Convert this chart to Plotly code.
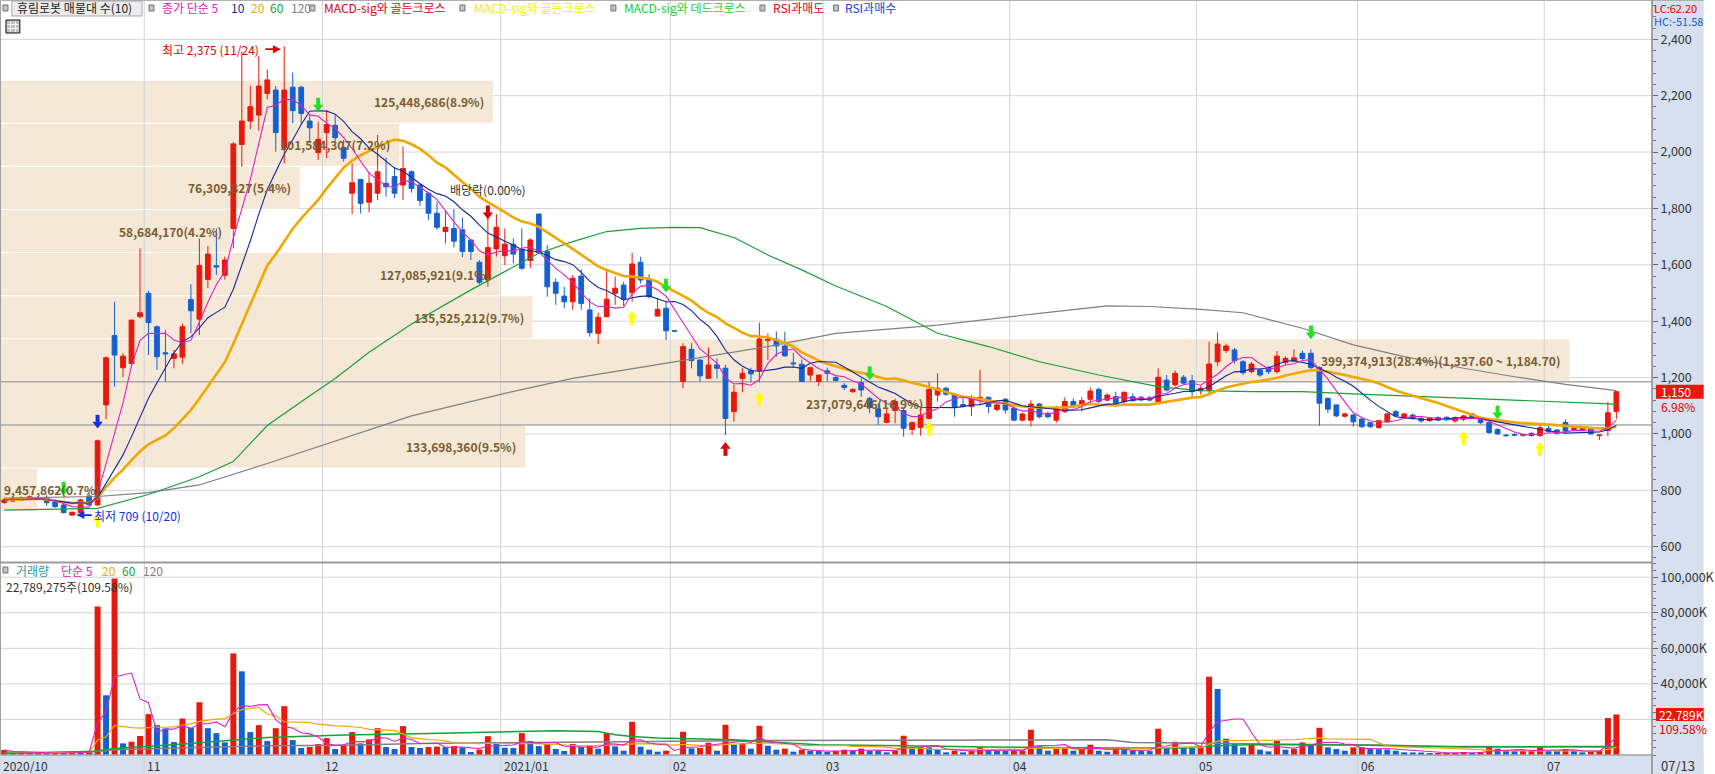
import pandas as pd
import plotly.graph_objects as go

# daily candles, one per trading day (index 0 = 2020/10/07 ... 190 = 2021/07/13)
opens = [757, 762, 773, 768, 774, 775, 763, 748, 712, 721,
         780, 748, 1103, 1349, 1235, 1250, 1416, 1499, 1380, 1288,
         1268, 1272, 1477, 1407, 1548, 1597, 1563, 1729, 2027, 2110,
         2131, 2208, 2220, 2015, 2230, 2230, 2110, 1998, 2069, 2095,
         2016, 1854, 1903, 1822, 1854, 1889, 1913, 1883, 1930, 1883,
         1854, 1783, 1718, 1729, 1724, 1688, 1609, 1546, 1656, 1632,
         1673, 1655, 1615, 1780, 1647, 1538, 1489, 1469, 1560, 1440,
         1357, 1416, 1499, 1528, 1501, 1609, 1550, 1418, 1446, 1366,
         1186, 1300, 1262, 1197, 1245, 1233, 1079, 1197, 1224, 1224,
         1332, 1336, 1312, 1252, 1247, 1209, 1186, 1224, 1200, 1172,
         1150, 1182, 1126, 1089, 1041, 1083, 1083, 1016, 1023, 1055,
         1138, 1162, 1141, 1104, 1097, 1118, 1130, 1087, 1123, 1091,
         1049, 1049, 1106, 1073, 1049, 1079, 1115, 1103, 1123, 1158,
         1120, 1132, 1115, 1132, 1130, 1128, 1115, 1191, 1174, 1201,
         1189, 1153, 1154, 1256, 1296, 1298, 1256, 1221, 1227, 1236,
         1221, 1253, 1259, 1286, 1286, 1236, 1126, 1103, 1063, 1067,
         1053, 1040, 1023, 1043, 1079, 1059, 1067, 1055, 1047, 1058,
         1059, 1046, 1052, 1071, 1058, 1040, 1016, 996, 998, 995,
         1002, 994, 1020, 1014, 1041, 1016, 1014, 1017, 994, 1012,
         1080]
highs = [775, 775, 778, 782, 780, 783, 768, 752, 725, 770,
         792, 980, 1275, 1469, 1286, 1404, 1658, 1508, 1385, 1369,
         1298, 1392, 1531, 1693, 1667, 1729, 1629, 2035, 2355, 2235,
         2341, 2293, 2234, 2375, 2282, 2235, 2131, 2108, 2149, 2131,
         2043, 1960, 1905, 1930, 2060, 1981, 1948, 2019, 1935, 1890,
         1858, 1824, 1794, 1797, 1768, 1690, 1617, 1780, 1780, 1729,
         1694, 1729, 1694, 1782, 1670, 1552, 1522, 1564, 1584, 1481,
         1430, 1584, 1558, 1540, 1643, 1629, 1567, 1481, 1469, 1366,
         1322, 1322, 1265, 1307, 1268, 1245, 1174, 1233, 1235, 1395,
         1357, 1363, 1363, 1288, 1264, 1235, 1209, 1235, 1205, 1180,
         1162, 1197, 1132, 1109, 1091, 1125, 1090, 1044, 1091, 1185,
         1215, 1168, 1144, 1132, 1138, 1227, 1132, 1108, 1127, 1103,
         1075, 1120, 1110, 1079, 1100, 1130, 1126, 1130, 1165, 1165,
         1144, 1150, 1150, 1144, 1135, 1135, 1233, 1209, 1225, 1209,
         1209, 1170, 1327, 1360, 1320, 1305, 1262, 1255, 1232, 1240,
         1294, 1275, 1300, 1296, 1300, 1240, 1130, 1105, 1075, 1070,
         1056, 1043, 1050, 1075, 1085, 1075, 1072, 1060, 1060, 1062,
         1063, 1062, 1068, 1075, 1062, 1045, 1020, 1000, 1003, 1000,
         1006, 1040, 1030, 1018, 1052, 1024, 1022, 1020, 997, 1114,
         1150]
lows = [752, 758, 762, 765, 765, 745, 738, 718, 709, 718,
        745, 745, 1052, 1168, 1201, 1245, 1410, 1280, 1227, 1185,
        1233, 1250, 1357, 1351, 1517, 1564, 1548, 1658, 1948, 2081,
        2076, 2187, 2001, 1960, 2102, 2100, 2031, 1972, 1978, 2037,
        1966, 1780, 1782, 1786, 1830, 1842, 1836, 1830, 1856, 1809,
        1759, 1724, 1676, 1662, 1627, 1617, 1530, 1522, 1629, 1599,
        1605, 1582, 1588, 1643, 1487, 1458, 1446, 1440, 1440, 1345,
        1319, 1414, 1458, 1454, 1469, 1534, 1481, 1418, 1333, 1364,
        1162, 1233, 1186, 1197, 1197, 996, 1044, 1148, 1183, 1183,
        1262, 1274, 1274, 1236, 1186, 1186, 1170, 1186, 1186, 1156,
        1145, 1132, 1073, 1032, 1038, 1038, 990, 996, 994, 1052,
        1115, 1135, 1061, 1097, 1064, 1103, 1075, 1080, 1073, 1046,
        1045, 1026, 1055, 1055, 1040, 1075, 1091, 1079, 1106, 1109,
        1115, 1097, 1103, 1115, 1115, 1115, 1106, 1150, 1168, 1174,
        1127, 1140, 1143, 1240, 1288, 1250, 1210, 1215, 1203, 1212,
        1215, 1245, 1255, 1262, 1230, 1029, 1074, 1060, 1058, 1026,
        1020, 1020, 1018, 1040, 1060, 1055, 1050, 1040, 1043, 1045,
        1046, 1040, 1046, 1055, 1035, 1000, 996, 990, 992, 990,
        990, 990, 1005, 998, 1002, 1010, 1010, 998, 978, 991,
        1053]
closes = [766, 771, 766, 777, 770, 756, 742, 721, 722, 766,
          748, 976, 1270, 1280, 1276, 1404, 1430, 1395, 1274, 1284,
          1284, 1380, 1437, 1598, 1638, 1592, 1617, 2029, 2110, 2161,
          2234, 2256, 2069, 2220, 2147, 2137, 2086, 2045, 2098, 2051,
          1978, 1891, 1818, 1889, 1930, 1877, 1854, 1942, 1871, 1828,
          1783, 1733, 1733, 1684, 1647, 1647, 1538, 1661, 1733, 1673,
          1638, 1588, 1688, 1643, 1522, 1499, 1469, 1552, 1463, 1359,
          1414, 1478, 1517, 1478, 1603, 1546, 1487, 1442, 1366, 1365,
          1310, 1260, 1206, 1245, 1233, 1055, 1148, 1215, 1213, 1337,
          1336, 1312, 1277, 1249, 1186, 1235, 1209, 1215, 1190, 1165,
          1158, 1156, 1094, 1061, 1071, 1115, 1020, 1040, 1067, 1158,
          1162, 1141, 1097, 1098, 1126, 1130, 1097, 1103, 1085, 1049,
          1071, 1106, 1061, 1061, 1094, 1115, 1097, 1118, 1152, 1115,
          1138, 1109, 1148, 1118, 1121, 1120, 1201, 1156, 1215, 1180,
          1150, 1162, 1248, 1319, 1312, 1260, 1217, 1248, 1209, 1221,
          1276, 1268, 1270, 1268, 1236, 1109, 1088, 1064, 1071, 1043,
          1026, 1026, 1047, 1071, 1064, 1071, 1055, 1046, 1055, 1049,
          1050, 1058, 1064, 1058, 1040, 1005, 1000, 994, 996, 997,
          994, 1022, 1008, 1002, 1010, 1021, 1020, 1000, 996, 1075,
          1150]
# volume in thousand shares
volumes = [2800, 1100, 1300, 900, 1200, 1000, 1400, 1200, 1600, 1300,
           2400, 83470, 33600, 99300, 6550, 7470, 10700, 22970, 16800, 14940,
           7280, 20540, 15300, 29700, 15100, 12300, 7100, 57140, 47060, 12880,
           16800, 7840, 15100, 27450, 8400, 3920, 4480, 6160, 9520, 3360,
           5400, 12880, 6550, 8800, 15100, 4480, 3360, 16240, 4480, 3920,
           4480, 4700, 4400, 5000, 4100, 1700, 3100, 10600, 6550, 4100,
           3900, 12300, 7840, 5000, 6200, 3400, 2240, 6200, 4500, 5400,
           3550, 12300, 4850, 2430, 18670, 4670, 2990, 1870, 2430, 0,
           13070, 3730, 3900, 6900, 2430, 17000, 5790, 6720, 3550, 16430,
           5230, 2990, 3550, 1870, 2990, 2240, 2200, 1680, 2240, 2990,
           2240, 3550, 2430, 2400, 1500, 2430, 10830, 3360, 4480, 4300,
           3360, 1500, 2430, 1500, 2430, 4290, 2430, 2400, 2380, 2430,
           2480, 14190, 4850, 2430, 3360, 4290, 2430, 3360, 5790, 2430,
           1870, 3360, 2990, 2430, 2240, 2200, 14750, 3730, 7470, 4300,
           3900, 4100, 44060, 37150, 9150, 6720, 4290, 5790, 2990, 2050,
           8030, 2990, 3360, 7090, 5600, 15310, 4290, 3360, 2430, 4290,
           4400, 3360, 3300, 2990, 2430, 1500, 1450, 1400, 1120, 1130,
           1140, 1150, 1680, 1120, 1680, 4850, 3550, 2240, 2200, 2250,
           2300, 4480, 2240, 2200, 3360, 2240, 1500, 1680, 2240, 20797,
           22789.275]

month_start = [0, 17, 38, 59, 79, 97, 119, 141, 160, 182]
month_label = ['2020/10', '11', '12', '2021/01', '02', '03', '04', '05', '06', '07']
last_date = '07/13'
hi_date = '11/24'
lo_date = '10/20'

# 60 / 120 day lines
ma60_idx = [0, 11, 17, 23, 27, 31, 35, 39, 43, 48, 55, 63, 67, 71, 75, 79, 82, 86, 90, 94,
            98, 104, 110, 116, 122, 129, 136, 141, 147, 153, 159, 165, 172, 178, 184, 190]
ma60_val = [730, 736, 785, 848, 902, 1030, 1114, 1197, 1290, 1390, 1511, 1641, 1682, 1718, 1729,
            1733, 1732, 1697, 1635, 1582, 1525, 1452, 1357, 1310, 1256, 1209, 1168, 1154, 1150,
            1150, 1142, 1135, 1126, 1118, 1111, 1106]
ma120_idx = [0, 11, 17, 23, 31, 35, 39, 48, 59, 67, 75, 83, 90, 98, 110, 122, 130, 135, 141,
             146, 153, 159, 165, 172, 178, 184, 190]
ma120_val = [772, 778, 792, 819, 895, 935, 975, 1064, 1144, 1197, 1236, 1275, 1310, 1357, 1386,
             1428, 1454, 1452, 1442, 1430, 1375, 1316, 1274, 1233, 1203, 1176, 1154]
vma60_idx = [0, 10, 13, 22, 31, 40, 50, 58, 65, 70, 72, 74, 77, 86, 96, 106, 116, 131, 139,
             143, 147, 162, 172, 184, 190]
vma60_val = [950, 1900, 3700, 6500, 9850, 11200, 12100, 12700, 13600, 13250, 11400, 10460, 9520,
             8590, 5790, 5230, 4480, 3920, 3920, 5230, 5790, 5600, 4480, 4850, 4850]
vma120_idx = [0, 10, 13, 22, 31, 40, 49, 58, 69, 90, 130, 133, 140, 150, 158, 165, 190]
vma120_val = [950, 1500, 3000, 4200, 5150, 5550, 6500, 6900, 7250, 8200, 8600, 7100, 6700, 6300,
              5800, 4900, 4500]

# volume-at-price bands (top to bottom)
band_vol = [125448686, 101584307, 76309827, 58684170, 127085921,
            135525212, 399374913, 237079646, 133698360, 9457862]
band_pct = ['8.9', '7.2', '5.4', '4.2', '9.1', '9.7', '28.4', '16.9', '9.5', '0.7']
peak_band_hi = 1337.60
peak_band_lo = 1184.70

# signal arrows
dead_idx = [7, 37, 78, 102, 154, 176]
dead_y = [798, 2160, 1518, 1207, 1352, 1068]
goldy_idx = [11, 74, 89, 109, 172, 181]
goldy_y = [700, 1420, 1133, 1026, 994, 955]
goldr_idx = [85]
goldr_y = [955]
rsi_hi_idx = [11]
rsi_hi_y = [1035]
exdiv_idx = [57]
exdiv_y = [1778]

price_grid = [600, 800, 1000, 1200, 1400, 1600, 1800, 2000, 2200, 2400]
vol_grid = [20000, 40000, 60000, 80000, 100000]

UP = '#e8190c'
DOWN = '#1560d0'
GRID = '#d4d4d4'
FONT = 'Noto Sans CJK KR'
W_PLOT, H_PLOT = 1663, 755
P_LO, P_HI = 545.7, 2539.4
V_HI = 108000


def xp(px):
    return px / W_PLOT


def yp(py):
    return 1 - py / H_PLOT


n = len(closes)
idx = list(range(n))
cs = pd.Series(closes, dtype=float)
ma5 = cs.rolling(5, min_periods=1).mean()
ma10 = cs.rolling(10, min_periods=1).mean()
ma20 = cs.rolling(20, min_periods=1).mean()
vs = pd.Series(volumes, dtype=float)
vma5 = vs.rolling(5, min_periods=1).mean()
vma20 = vs.rolling(20, min_periods=1).mean()
vol_colors = [UP] + [UP if volumes[k] >= volumes[k - 1] else DOWN for k in range(1, n)]

price_per_px = (P_HI - P_LO) / 562.0
vol_per_px = V_HI / 192.0

fig = go.Figure()

fig.add_trace(go.Candlestick(
    x=idx, open=opens, high=highs, low=lows, close=closes,
    increasing=dict(line=dict(color=UP, width=1), fillcolor=UP),
    decreasing=dict(line=dict(color=DOWN, width=1), fillcolor=DOWN),
    whiskerwidth=0, hoverinfo='skip', xaxis='x', yaxis='y'))

for xs, ys, col, w in [(ma120_idx, ma120_val, '#808080', 1.2),
                       (ma60_idx, ma60_val, '#18a038', 1.2),
                       (idx, ma20, '#f0a800', 2.6),
                       (idx, ma10, '#1028a0', 1.1),
                       (idx, ma5, '#e020c0', 1.1)]:
    fig.add_trace(go.Scatter(x=xs, y=ys, mode='lines', line=dict(color=col, width=w),
                             hoverinfo='skip', xaxis='x', yaxis='y'))


def arrows(xs, ys, col, down):
    # block arrow = triangle head + short stem
    off = 5 * price_per_px * (1 if down else -1)
    fig.add_trace(go.Scatter(x=xs, y=[v + off for v in ys], mode='markers',
                             marker=dict(symbol='line-ns', size=6, line=dict(color=col, width=4)),
                             hoverinfo='skip', xaxis='x', yaxis='y'))
    fig.add_trace(go.Scatter(x=xs, y=ys, mode='markers',
                             marker=dict(symbol='triangle-down' if down else 'triangle-up',
                                         size=9, color=col, line=dict(width=0)),
                             hoverinfo='skip', xaxis='x', yaxis='y'))


arrows(dead_idx, dead_y, '#22e022', True)
arrows(goldy_idx, goldy_y, '#ffff00', False)
arrows(goldr_idx, goldr_y, '#e00000', False)
arrows(rsi_hi_idx, rsi_hi_y, '#1030e8', True)
arrows(exdiv_idx, exdiv_y, '#e00000', True)

# volume panel
fig.add_trace(go.Bar(x=idx, y=volumes, marker=dict(color=vol_colors, line=dict(width=0)),
                     width=0.7, hoverinfo='skip', xaxis='x2', yaxis='y2'))
for xs, ys, col, w in [(vma120_idx, vma120_val, '#808080', 1.5),
                       (vma60_idx, vma60_val, '#18a038', 1.5),
                       (idx, vma20, '#f0a800', 1.2),
                       (idx, vma5, '#e020c0', 1.1)]:
    fig.add_trace(go.Scatter(x=xs, y=ys, mode='lines', line=dict(color=col, width=w),
                             hoverinfo='skip', xaxis='x2', yaxis='y2'))

shapes = []
ann = []


def text(x, y, s, col='#333333', size=12, xanchor='left', xref='paper', yref='paper', bold=False, **kw):
    ann.append(dict(x=x, y=y, xref=xref, yref=yref, text='<b>%s</b>' % s if bold else s,
                    showarrow=False, xanchor=xanchor, yanchor='middle', borderpad=0,
                    font=dict(family=FONT, size=size, color=col), **kw))


# background strips for the right scale and date row
shapes.append(dict(type='rect', xref='paper', yref='paper', x0=1, x1=1715 / W_PLOT,
                   y0=yp(774), y1=1, fillcolor='#d6e0ee', line=dict(width=0), layer='below'))
shapes.append(dict(type='rect', xref='paper', yref='paper', x0=0, x1=1715 / W_PLOT,
                   y0=yp(774), y1=0, fillcolor='#d6e0ee', line=dict(width=0), layer='below'))

# horizontal grid (drawn as shapes so the bands can cover them)
for v in price_grid:
    shapes.append(dict(type='line', xref='paper', yref='y', x0=0, x1=1, y0=v, y1=v,
                       line=dict(color=GRID, width=1), layer='below'))
for v in vol_grid:
    shapes.append(dict(type='line', xref='paper', yref='y2', x0=0, x1=1, y0=v, y1=v,
                       line=dict(color=GRID, width=1), layer='below'))

# volume-at-price bands
step = peak_band_hi - peak_band_lo
k_peak = band_vol.index(max(band_vol))
vmax = max(band_vol)
band_edges = []
for k, v in enumerate(band_vol):
    lo = peak_band_lo + (k_peak - k) * step
    hi = lo + step
    band_edges.append((lo, hi))
    frac = v / vmax * 0.95
    shapes.append(dict(type='rect', xref='x domain', yref='y', x0=0, x1=frac,
                       y0=lo + 1.8, y1=hi - 1.8, fillcolor='#f5e8d6', line=dict(width=0),
                       layer='below'))
    s = '%s(%s%%)' % (format(v, ','), band_pct[k])
    if k == k_peak:
        s += '(%s ~ %s)' % (format(peak_band_hi, ',.2f'), format(peak_band_lo, ',.2f'))
    wpx = len(s) * 7.2
    if frac * W_PLOT > wpx + 8:
        text(frac - 8 / W_PLOT, (lo + hi) / 2, s, '#7a5c30', 12, 'right', 'x domain', 'y', bold=True)
    else:
        text(3 / W_PLOT, (lo + hi) / 2, s, '#7a5c30', 12, 'left', 'x domain', 'y', bold=True)

# month grid lines
for m in month_start[1:]:
    shapes.append(dict(type='line', xref='x', yref='paper', x0=m - 0.5, x1=m - 0.5,
                       y0=yp(774), y1=1, line=dict(color='#d2d2d2', width=1), layer='below'))

# edges of the band holding the last close
last = closes[-1]
for lo, hi in band_edges:
    if lo <= last < hi:
        for v in (lo, hi):
            shapes.append(dict(type='line', xref='paper', yref='y', x0=0, x1=1, y0=v, y1=v,
                               line=dict(color='#808080', width=1), layer='below'))

# frame lines
shapes += [
    dict(type='line', xref='paper', yref='paper', x0=0, x1=1, y0=yp(562.5), y1=yp(562.5),
         line=dict(color='#9a9a9a', width=2), layer='above'),
    dict(type='line', xref='paper', yref='paper', x0=0, x1=1, y0=0, y1=0,
         line=dict(color='#a0a0a0', width=1.5), layer='above'),
    dict(type='line', xref='paper', yref='paper', x0=0, x1=0, y0=0, y1=1,
         line=dict(color='#a0a0a0', width=2), layer='above'),
    dict(type='line', xref='paper', yref='paper', x0=0, x1=1715 / W_PLOT, y0=1, y1=1,
         line=dict(color='#b0b0b0', width=2), layer='above'),
    dict(type='line', xref='paper', yref='paper', x0=1, x1=1, y0=yp(774), y1=1,
         line=dict(color='#8a8a8a', width=1.5), layer='above'),
]

# header legend
hy = yp(8)
shapes.append(dict(type='rect', xref='paper', yref='paper', x0=xp(12), x1=xp(143), y0=yp(16), y1=yp(1),
                   fillcolor='#ececec', line=dict(color='#a8a8a8', width=1), layer='above'))
for sx in [3, 150, 312, 463, 615, 765, 839]:
    shapes.append(dict(type='rect', xref='paper', yref='paper', x0=xp(sx), x1=xp(sx + 5),
                       y0=yp(11), y1=yp(5), fillcolor='#c4c4c4', line=dict(color='#707070', width=1),
                       layer='above'))
text(xp(16), hy, '휴림로봇 매물대 수(10)', '#222222')
for x0, s, col in [(162, '종가 단순 5', '#e020c0'), (232, '10', '#1028a0'), (252, '20', '#f0a800'),
                   (271, '60', '#18a038'), (292, '120', '#808080'),
                   (325, 'MACD-sig와 골든크로스', '#e00010'),
                   (476, 'MACD-sig와 골든크로스', '#f0f000'),
                   (627, 'MACD-sig와 데드크로스', '#22d022'),
                   (777, 'RSI과매도', '#e00010'),
                   (850, 'RSI과매수', '#1a40e0')]:
    text(xp(x0), hy, s, col)
# small table icon
shapes.append(dict(type='rect', xref='paper', yref='paper', x0=xp(6), x1=xp(20), y0=yp(33), y1=yp(20),
                   fillcolor='#c0c0c0', line=dict(color='#111111', width=1), layer='above'))
for gx in (10.5, 15.5):
    shapes.append(dict(type='line', xref='paper', yref='paper', x0=xp(gx), x1=xp(gx), y0=yp(32), y1=yp(21),
                       line=dict(color='#f4f4f4', width=1), layer='above'))
for gy in (24.5, 28.5):
    shapes.append(dict(type='line', xref='paper', yref='paper', x0=xp(7), x1=xp(19), y0=yp(gy), y1=yp(gy),
                       line=dict(color='#f4f4f4', width=1), layer='above'))

# high / low / ex-dividend notes
i_hi = highs.index(max(highs))
i_lo = lows.index(min(lows))
ann.append(dict(x=i_hi - 0.4, y=max(highs) - 10, xref='x', yref='y', ax=-17, ay=0, axref='pixel',
                ayref='pixel', showarrow=True, arrowhead=2, arrowsize=1, arrowwidth=1.6,
                arrowcolor='#e00000', text=''))
text(i_hi - 0.4, max(highs) - 10, '최고 %s (%s)' % (format(max(highs), ','), hi_date), '#e00000',
     12, 'right', 'x', 'y', xshift=-21)
ann.append(dict(x=i_lo + 0.5, y=min(lows) + 3, xref='x', yref='y', ax=17, ay=0, axref='pixel',
                ayref='pixel', showarrow=True, arrowhead=2, arrowsize=1, arrowwidth=1.6,
                arrowcolor='#1030e8', text=''))
text(i_lo + 0.5, min(lows) + 3, '최저 %d (%s)' % (min(lows), lo_date), '#1030e8', 12, 'left', 'x', 'y',
     xshift=17)
text(exdiv_idx[0], exdiv_y[0] + 88, '배당락(0.00%)', '#333333', 12, 'center', 'x', 'y')

# right scale notes
lc = (last / min(lows) - 1) * 100
hc = (last / max(highs) - 1) * 100
text(xp(1664), yp(7.5), 'LC:%.2f' % lc, '#e00000', 11)
text(xp(1664), yp(21.5), 'HC:%.2f' % hc, '#1a5cd0', 11)
shapes.append(dict(type='rect', xref='paper', yref='y', x0=xp(1667), x1=1715 / W_PLOT,
                   y0=last - 7 * price_per_px, y1=last + 7 * price_per_px, fillcolor=UP,
                   line=dict(width=0), layer='above'))
text(xp(1671), last, format(last, ','), 'white', 12, yref='y')
chg = (last / closes[-2] - 1) * 100
text(xp(1671), last - 14.5 * price_per_px, '%.2f%%' % chg, '#e00000', 12, yref='y')

vlast = volumes[-1]
shapes.append(dict(type='rect', xref='paper', yref='y2', x0=xp(1667), x1=1715 / W_PLOT,
                   y0=vlast - 6.5 * vol_per_px, y1=vlast + 6.5 * vol_per_px, fillcolor=UP,
                   line=dict(width=0), layer='above'))
text(xp(1669), vlast, '%sK' % format(int(vlast), ','), 'white', 12, yref='y2')
vchg = vlast / volumes[-2] * 100
text(xp(1669), vlast - 14 * vol_per_px, '%.2f%%' % vchg, '#e00000', 12, yref='y2')

# volume legend
vy = yp(570)
shapes.append(dict(type='rect', xref='paper', yref='paper', x0=xp(3), x1=xp(8), y0=yp(573), y1=yp(567),
                   fillcolor='#c4c4c4', line=dict(color='#707070', width=1), layer='above'))
for x0, s, col in [(15, '거래량', '#2a9aa0'), (60, '단순 5', '#e020c0'), (102, '20', '#f0a800'),
                   (122, '60', '#18a038'), (143, '120', '#808080')]:
    text(xp(x0), vy, s, col)
text(xp(5), yp(586.5), '%s주(%.2f%%)' % (format(round(vlast * 1000), ','), vchg), '#333333')

# date row
for m, s in zip(month_start, month_label):
    text(m - 0.5, yp(765), s, '#333333', 12, 'left', 'x', 'paper', xshift=2)
text(xp(1671), yp(765), last_date, '#333333', 13)

# the 20,000K label sits under the volume box, as in the original
vol_ticktext = ['' if v == 20000 else '%sK' % format(v, ',') for v in vol_grid]

fig.update_layout(
    width=1715, height=774, margin=dict(l=0, r=52, t=0, b=19),
    paper_bgcolor='white', plot_bgcolor='white', showlegend=False, boxgap=0.2,
    font=dict(family=FONT, size=12, color='#333333'),
    xaxis=dict(domain=[0, 1], range=[-0.5, 194.2], showticklabels=False, showgrid=False,
               zeroline=False, rangeslider=dict(visible=False), anchor='y'),
    xaxis2=dict(domain=[0, 1], range=[-0.5, 194.2], matches='x', showticklabels=False, showgrid=False,
                zeroline=False, anchor='y2'),
    yaxis=dict(domain=[yp(562), 1], range=[P_LO, P_HI], side='right', anchor='x',
               tickmode='array', tickvals=price_grid, ticktext=[format(v, ',') for v in price_grid],
               ticks='outside', ticklen=5, tickcolor='#666666', showgrid=False, zeroline=False,
               tickfont=dict(family=FONT, size=12.5, color='#333333'),
               minor=dict(tickmode='linear', tick0=0, dtick=40, ticks='outside', ticklen=3,
                          tickcolor='#777777', showgrid=False)),
    yaxis2=dict(domain=[0, yp(563)], range=[0, V_HI], side='right', anchor='x2',
                tickmode='array', tickvals=vol_grid, ticktext=vol_ticktext,
                ticks='outside', ticklen=5, tickcolor='#666666', showgrid=False, zeroline=False,
                tickfont=dict(family=FONT, size=12.5, color='#333333'),
                minor=dict(tickmode='linear', tick0=0, dtick=4000, ticks='outside', ticklen=3,
                           tickcolor='#777777', showgrid=False)),
    shapes=shapes, annotations=ann,
)

fig.write_html("out.html", config={'displayModeBar': False},
               post_script="document.body.style.margin='0';")
